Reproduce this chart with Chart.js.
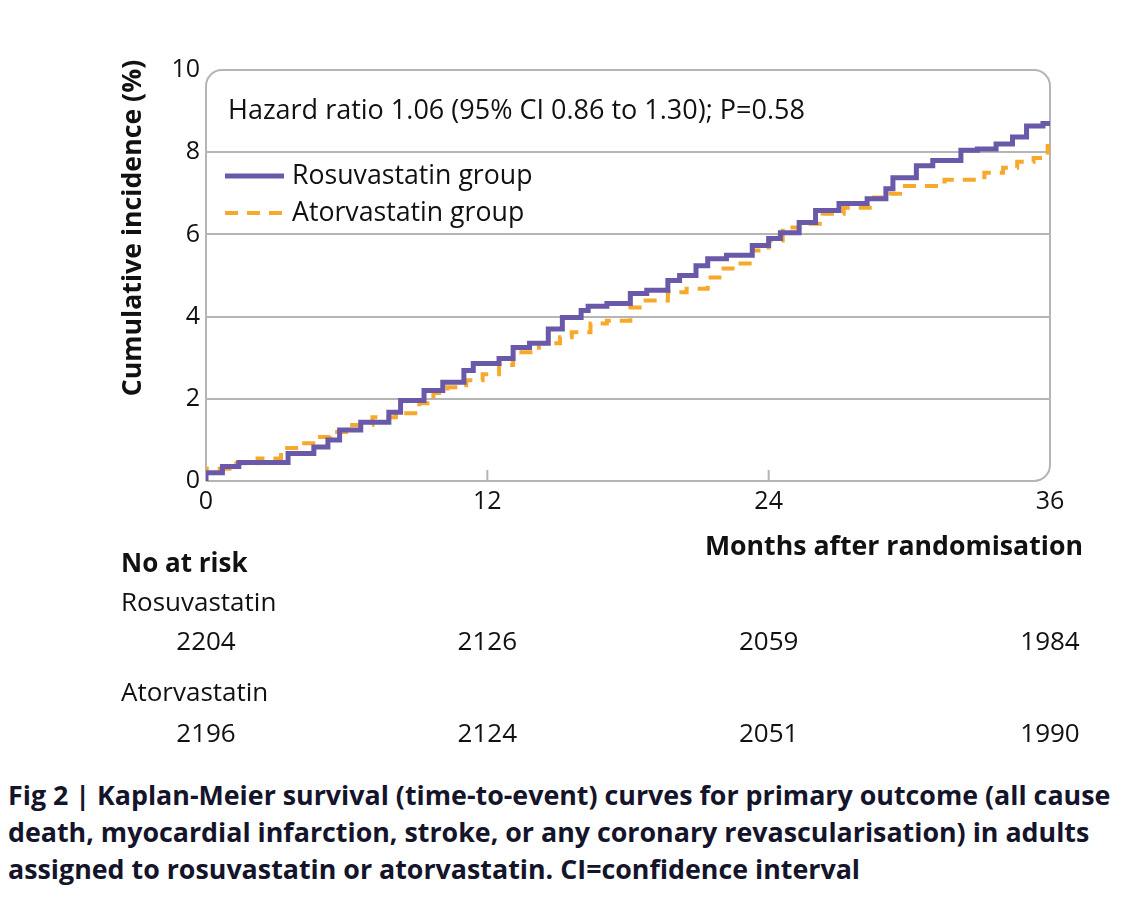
<!DOCTYPE html>
<html>
<head>
<meta charset="utf-8">
<script src="https://cdn.jsdelivr.net/npm/chart.js@4.4.1/dist/chart.umd.min.js"></script>
<style>
  html, body { margin: 0; padding: 0; background: #fff; }
  #wrap { position: relative; width: 1144px; height: 770px; }
  #caption {
    margin: 6px 0 0 8px;
    font-family: 'Open Sans', sans-serif;
    font-weight: bold;
    font-size: 26.8px;
    line-height: 37px;
    color: #14142b;
    white-space: nowrap;
  }
</style>
</head>
<body>
<div id="wrap"><canvas id="km"></canvas></div>
<div id="caption">Fig 2 | Kaplan-Meier survival (time-to-event) curves for primary outcome (all cause<br>death, myocardial infarction, stroke, or any coronary revascularisation) in adults<br>assigned to rosuvastatin or atorvastatin. CI=confidence interval</div>
<script>
// Courbes (mois, incidence cumulée en %)
const rosuMonths = [0, 0.7, 1.4, 3.5, 4.6, 5.2, 5.7, 6.6, 7.8, 8.3, 9.3, 10.1, 11.0, 11.4, 12.5, 13.1,
  13.8, 14.6, 15.2, 16.0, 16.3, 17.1, 18.1, 18.8, 19.7, 20.2, 20.9, 21.4, 22.2, 23.3, 24.0, 24.5,
  25.3, 26.0, 27.0, 28.2, 29.0, 29.3, 30.3, 31.0, 32.2, 32.9, 33.7, 34.4, 35.0, 35.7, 36]
const rosuPct = [0, 0.2, 0.35, 0.45, 0.67, 0.83, 1.0, 1.24, 1.43, 1.67, 1.96, 2.2, 2.4, 2.69, 2.86, 2.98,
  3.25, 3.35, 3.7, 3.98, 4.15, 4.25, 4.32, 4.56, 4.64, 4.88, 5.0, 5.24, 5.41, 5.49, 5.73, 5.9,
  6.04, 6.29, 6.58, 6.75, 6.87, 7.11, 7.38, 7.67, 7.8, 8.05, 8.08, 8.2, 8.37, 8.64, 8.7]

const atorMonths = [0, 1.0, 2.2, 3.2, 4.0, 4.7, 5.3, 6.1, 7.1, 8.1, 9.1, 9.7, 10.3, 11.1, 11.8, 12.5,
  13.1, 14.2, 15.1, 15.6, 16.4, 17.1, 18.1, 18.6, 19.7, 20.5, 21.4, 21.9, 22.8, 23.3, 24.0, 24.6,
  25.3, 26.3, 27.2, 28.5, 29.2, 29.6, 31.5, 33.2, 34.0, 34.6, 35.3, 35.9, 36]
const atorPct = [0.05, 0.3, 0.43, 0.55, 0.8, 0.92, 1.07, 1.19, 1.36, 1.55, 1.65, 1.89, 2.14, 2.28, 2.45, 2.6,
  2.82, 3.13, 3.35, 3.5, 3.62, 3.83, 3.9, 4.22, 4.39, 4.59, 4.68, 4.95, 5.17, 5.29, 5.61, 5.85,
  6.17, 6.26, 6.5, 6.65, 6.9, 6.99, 7.18, 7.33, 7.5, 7.62, 7.77, 7.86, 8.15]

// Tableau "No at risk"
const riskMonths = [0, 12, 24, 36]
const rosuAtRisk = [2204, 2126, 2059, 1984]
const atorAtRisk = [2196, 2124, 2051, 1990]

const xTicks = [0, 12, 24, 36]
const yTicks = [0, 2, 4, 6, 8, 10]

const FONT = '"Open Sans", sans-serif'
const PURPLE = '#6a58a8'
const ORANGE = '#f6a92b'
const GRID = '#b5b5b5'

function toPoints(xs, ys) {
  return xs.map((x, i) => ({ x, y: ys[i] }))
}

// Cadre arrondi, graduations et textes autour du graphique
const overlayPlugin = {
  id: 'overlay',
  beforeDatasetsDraw(chart) {
    const { ctx, chartArea } = chart
    const { left, top, right, bottom } = chartArea
    const r = 16
    ctx.save()
    ctx.strokeStyle = GRID
    ctx.lineWidth = 2
    ctx.beginPath()
    ctx.moveTo(left, bottom)
    ctx.lineTo(left, top + r)
    ctx.arcTo(left, top, left + r, top, r)
    ctx.lineTo(right - r, top)
    ctx.arcTo(right, top, right, top + r, r)
    ctx.lineTo(right, bottom - r)
    ctx.arcTo(right, bottom, right - r, bottom, r)
    ctx.lineTo(left, bottom)
    ctx.stroke()
    // petites graduations internes sur l'axe des x
    const xs = chart.scales.x
    xTicks.slice(1, -1).forEach((v) => {
      const px = xs.getPixelForValue(v)
      ctx.beginPath()
      ctx.moveTo(px, bottom)
      ctx.lineTo(px, bottom - 11)
      ctx.stroke()
    })
    ctx.restore()
  },
  afterDraw(chart) {
    const { ctx, chartArea } = chart
    const xs = chart.scales.x
    ctx.save()
    ctx.fillStyle = '#111'
    ctx.textBaseline = 'middle'

    // titre de l'axe y (décalé vers le haut comme sur la figure)
    ctx.save()
    ctx.translate(133, 228)
    ctx.rotate(-Math.PI / 2)
    ctx.textAlign = 'center'
    ctx.font = 'bold 26.7px ' + FONT
    ctx.fillText('Cumulative incidence (%)', 0, 0)
    ctx.restore()

    // annotation
    ctx.font = '27px ' + FONT
    ctx.textAlign = 'left'
    ctx.fillText('Hazard ratio 1.06 (95% CI 0.86 to 1.30); P=0.58', chartArea.left + 22, 111)

    // légende
    const legendY = [176, 213]
    ctx.font = '26.7px ' + FONT
    chart.data.datasets.forEach((ds, i) => {
      const y = legendY[i]
      ctx.strokeStyle = ds.borderColor
      ctx.lineWidth = ds.borderWidth
      ctx.setLineDash(ds.borderDash || [])
      ctx.beginPath()
      ctx.moveTo(chartArea.left + 19, y)
      ctx.lineTo(chartArea.left + 78, y)
      ctx.stroke()
      ctx.setLineDash([])
      ctx.fillText(ds.label, chartArea.left + 86, y)
    })

    // titre de l'axe x
    ctx.font = 'bold 26.7px ' + FONT
    ctx.textAlign = 'right'
    ctx.fillText('Months after randomisation', 1083, 547)

    // nombre à risque
    ctx.textAlign = 'left'
    ctx.font = 'bold 26px ' + FONT
    ctx.fillText('No at risk', 121, 565)
    ctx.font = '26px ' + FONT
    ctx.fillText('Rosuvastatin', 121, 604)
    ctx.fillText('Atorvastatin', 121, 694)
    ctx.textAlign = 'center'
    riskMonths.forEach((m, i) => {
      const px = xs.getPixelForValue(m)
      ctx.fillText(String(rosuAtRisk[i]), px, 643)
      ctx.fillText(String(atorAtRisk[i]), px, 735)
    })
    ctx.restore()
  }
}

const config = {
  type: 'line',
  data: {
    datasets: [
      {
        label: 'Rosuvastatin group',
        data: toPoints(rosuMonths, rosuPct),
        borderColor: PURPLE,
        borderWidth: 5,
        stepped: 'after',
        pointRadius: 0,
        fill: false
      },
      {
        label: 'Atorvastatin group',
        data: toPoints(atorMonths, atorPct),
        borderColor: ORANGE,
        borderWidth: 4,
        borderDash: [13, 9],
        stepped: 'after',
        pointRadius: 0,
        fill: false
      }
    ]
  },
  options: {
    responsive: true,
    maintainAspectRatio: false,
    animation: false,
    layout: {
      padding: { left: 111, right: 94, top: 70, bottom: 0 }
    },
    plugins: {
      legend: { display: false },
      tooltip: { enabled: false }
    },
    scales: {
      x: {
        type: 'linear',
        min: 0,
        max: 36,
        afterBuildTicks: (scale) => {
          scale.ticks = xTicks.map((v) => ({ value: v }))
        },
        afterFit: (scale) => {
          scale.height = 289
        },
        grid: { display: false },
        border: { display: false },
        ticks: {
          color: '#111',
          padding: -2,
          font: { family: FONT, size: 25 }
        }
      },
      y: {
        min: 0,
        max: 10,
        afterBuildTicks: (scale) => {
          scale.ticks = yTicks.map((v) => ({ value: v }))
        },
        afterFit: (scale) => {
          scale.width = 95
        },
        grid: {
          color: (c) => (c.tick && (c.tick.value === 0 || c.tick.value === 10) ? 'rgba(0,0,0,0)' : GRID),
          lineWidth: 2,
          drawTicks: false
        },
        border: { display: false },
        ticks: {
          color: '#111',
          padding: 6,
          font: { family: FONT, size: 25 }
        },
        title: { display: false }
      }
    }
  },
  plugins: [overlayPlugin]
}

new Chart(document.getElementById('km'), config)
</script>
</body>
</html>
